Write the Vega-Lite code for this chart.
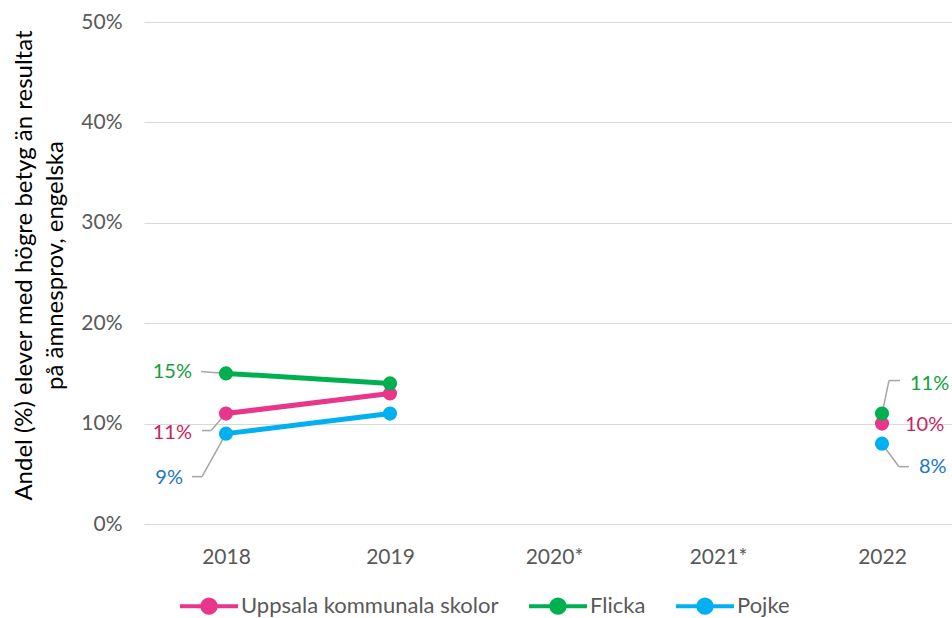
{
  "$schema": "https://vega.github.io/schema/vega-lite/v6.json",
  "width": 820,
  "height": 502,
  "autosize": "none",
  "padding": {"left": 144, "top": 22, "right": -12, "bottom": 94},
  "background": "white",
  "config": {"view": {"stroke": null}, "font": "Lato"},
  "data": {"values": [
    {"year": "2018", "series": "Uppsala kommunala skolor", "value": 0.11},
    {"year": "2019", "series": "Uppsala kommunala skolor", "value": 0.13},
    {"year": "2020*", "series": "Uppsala kommunala skolor", "value": null},
    {"year": "2021*", "series": "Uppsala kommunala skolor", "value": null},
    {"year": "2022", "series": "Uppsala kommunala skolor", "value": 0.10},
    {"year": "2018", "series": "Flicka", "value": 0.15},
    {"year": "2019", "series": "Flicka", "value": 0.14},
    {"year": "2020*", "series": "Flicka", "value": null},
    {"year": "2021*", "series": "Flicka", "value": null},
    {"year": "2022", "series": "Flicka", "value": 0.11},
    {"year": "2018", "series": "Pojke", "value": 0.09},
    {"year": "2019", "series": "Pojke", "value": 0.11},
    {"year": "2020*", "series": "Pojke", "value": null},
    {"year": "2021*", "series": "Pojke", "value": null},
    {"year": "2022", "series": "Pojke", "value": 0.08}
  ]},
  "encoding": {
    "x": {
      "field": "year", "type": "ordinal",
      "scale": {"type": "point", "domain": ["2018", "2019", "2020*", "2021*", "2022"], "padding": 0.5},
      "axis": {"domain": false, "ticks": false, "grid": false, "labelAngle": 0, "labelFontSize": 21, "labelColor": "#595959", "labelPadding": 22, "title": null}
    },
    "y": {
      "field": "value", "type": "quantitative",
      "scale": {"domain": [0, 0.5]},
      "axis": {
        "format": "%", "values": [0, 0.1, 0.2, 0.3, 0.4, 0.5],
        "grid": true, "gridColor": "#D9D9D9", "gridWidth": 1,
        "domain": false, "ticks": false,
        "labelFontSize": 21, "labelColor": "#595959", "labelPadding": 22,
        "title": ["Andel (%) elever med högre betyg än resultat", "på ämnesprov, engelska"],
        "titleFontSize": 24, "titleFontWeight": "normal", "titleColor": "#000000",
        "titlePadding": 13, "titleLineHeight": 31, "titleY": 243
      }
    }
  },
  "layer": [
    {
      "transform": [{"filter": "datum.series == 'Flicka' && datum.year == '2018'"}],
      "mark": {"type": "rule", "color": "#A6A6A6", "strokeWidth": 1.5, "xOffset": -25, "yOffset": -2, "x2Offset": 0, "y2Offset": 0},
      "encoding": {"x2": {"field": "year"}, "y2": {"field": "value"}}
    },
    {
      "transform": [{"filter": "datum.series == 'Uppsala kommunala skolor' && datum.year == '2018'"}],
      "mark": {"type": "rule", "color": "#A6A6A6", "strokeWidth": 1.5, "xOffset": -24, "yOffset": 17, "x2Offset": -15, "y2Offset": 17},
      "encoding": {"x2": {"field": "year"}, "y2": {"field": "value"}}
    },
    {
      "transform": [{"filter": "datum.series == 'Uppsala kommunala skolor' && datum.year == '2018'"}],
      "mark": {"type": "rule", "color": "#A6A6A6", "strokeWidth": 1.5, "xOffset": -15, "yOffset": 17, "x2Offset": 0, "y2Offset": 0},
      "encoding": {"x2": {"field": "year"}, "y2": {"field": "value"}}
    },
    {
      "transform": [{"filter": "datum.series == 'Pojke' && datum.year == '2018'"}],
      "mark": {"type": "rule", "color": "#A6A6A6", "strokeWidth": 1.5, "xOffset": -34, "yOffset": 43, "x2Offset": -24, "y2Offset": 43},
      "encoding": {"x2": {"field": "year"}, "y2": {"field": "value"}}
    },
    {
      "transform": [{"filter": "datum.series == 'Pojke' && datum.year == '2018'"}],
      "mark": {"type": "rule", "color": "#A6A6A6", "strokeWidth": 1.5, "xOffset": -24, "yOffset": 43, "x2Offset": 0, "y2Offset": 0},
      "encoding": {"x2": {"field": "year"}, "y2": {"field": "value"}}
    },
    {
      "transform": [{"filter": "datum.series == 'Flicka' && datum.year == '2022'"}],
      "mark": {"type": "rule", "color": "#A6A6A6", "strokeWidth": 1.5, "xOffset": 7, "yOffset": -33, "x2Offset": 18, "y2Offset": -33},
      "encoding": {"x2": {"field": "year"}, "y2": {"field": "value"}}
    },
    {
      "transform": [{"filter": "datum.series == 'Flicka' && datum.year == '2022'"}],
      "mark": {"type": "rule", "color": "#A6A6A6", "strokeWidth": 1.5, "xOffset": 7, "yOffset": -33, "x2Offset": 0, "y2Offset": 0},
      "encoding": {"x2": {"field": "year"}, "y2": {"field": "value"}}
    },
    {
      "transform": [{"filter": "datum.series == 'Pojke' && datum.year == '2022'"}],
      "mark": {"type": "rule", "color": "#A6A6A6", "strokeWidth": 1.5, "xOffset": 0, "yOffset": 0, "x2Offset": 17, "y2Offset": 23},
      "encoding": {"x2": {"field": "year"}, "y2": {"field": "value"}}
    },
    {
      "transform": [{"filter": "datum.series == 'Pojke' && datum.year == '2022'"}],
      "mark": {"type": "rule", "color": "#A6A6A6", "strokeWidth": 1.5, "xOffset": 17, "yOffset": 23, "x2Offset": 27, "y2Offset": 23},
      "encoding": {"x2": {"field": "year"}, "y2": {"field": "value"}}
    },
    {
      "mark": {"type": "line", "strokeWidth": 5, "invalid": "break-paths-show-domains"},
      "encoding": {
        "color": {
          "field": "series", "type": "nominal",
          "scale": {"domain": ["Uppsala kommunala skolor", "Flicka", "Pojke"], "range": ["#E8368A", "#00B050", "#00B0F0"]},
          "legend": {
            "orient": "none", "legendX": 34, "legendY": 553, "direction": "horizontal", "title": null,
            "labelFontSize": 22, "labelColor": "#595959", "labelOffset": 1, "labelLimit": 400,
            "symbolType": "M-1,0L1,0M-0.23,0A0.23,0.23,0,1,1,0.23,0A0.23,0.23,0,1,1,-0.23,0Z",
            "symbolSize": 3364, "symbolStrokeWidth": 4, "columnPadding": 22
          }
        }
      }
    },
    {
      "mark": {"type": "circle", "size": 200, "opacity": 1},
      "encoding": {"color": {"field": "series", "type": "nominal"}}
    },
    {
      "transform": [{"filter": "datum.series == 'Flicka' && datum.year == '2018'"}],
      "mark": {"type": "text", "align": "right", "baseline": "middle", "dx": -34, "dy": -1, "fontSize": 20, "color": "#12A03C"},
      "encoding": {"text": {"field": "value", "format": ".0%"}}
    },
    {
      "transform": [{"filter": "datum.series == 'Uppsala kommunala skolor' && datum.year == '2018'"}],
      "mark": {"type": "text", "align": "right", "baseline": "middle", "dx": -34, "dy": 19, "fontSize": 20, "color": "#C81F64"},
      "encoding": {"text": {"field": "value", "format": ".0%"}}
    },
    {
      "transform": [{"filter": "datum.series == 'Pojke' && datum.year == '2018'"}],
      "mark": {"type": "text", "align": "right", "baseline": "middle", "dx": -43, "dy": 44, "fontSize": 20, "color": "#1B75C9"},
      "encoding": {"text": {"field": "value", "format": ".0%"}}
    },
    {
      "transform": [{"filter": "datum.series == 'Flicka' && datum.year == '2022'"}],
      "mark": {"type": "text", "align": "left", "baseline": "middle", "dx": 28, "dy": -30, "fontSize": 20, "color": "#12A03C"},
      "encoding": {"text": {"field": "value", "format": ".0%"}}
    },
    {
      "transform": [{"filter": "datum.series == 'Uppsala kommunala skolor' && datum.year == '2022'"}],
      "mark": {"type": "text", "align": "left", "baseline": "middle", "dx": 23, "dy": 1, "fontSize": 20, "color": "#C81F64"},
      "encoding": {"text": {"field": "value", "format": ".0%"}}
    },
    {
      "transform": [{"filter": "datum.series == 'Pojke' && datum.year == '2022'"}],
      "mark": {"type": "text", "align": "left", "baseline": "middle", "dx": 37, "dy": 23, "fontSize": 20, "color": "#1B75C9"},
      "encoding": {"text": {"field": "value", "format": ".0%"}}
    }
  ]
}
